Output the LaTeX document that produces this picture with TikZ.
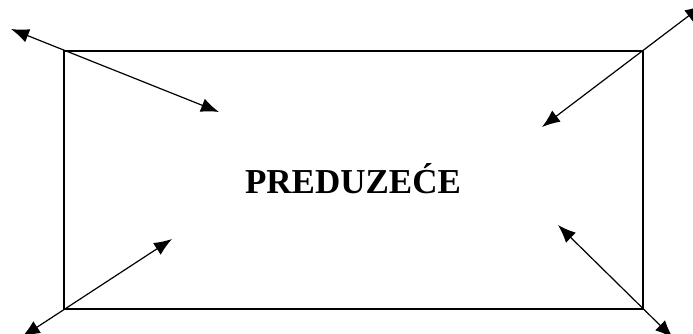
\documentclass[tikz,border=0pt]{standalone}
\usepackage{fontspec}
\setmainfont{Liberation Serif}
\usetikzlibrary{arrows.meta}
\begin{document}
\begin{tikzpicture}[x=1pt,y=1pt,>={Latex[length=18pt,width=14pt]}]
    \useasboundingbox (0,0) rectangle (693,333);
    \clip (0,0) rectangle (693,333);
    \draw[line width=1.2pt] (64,24) rectangle (643,282);
    \node (firm) at (353,154) {\fontsize{35}{40}\selectfont\bfseries PREDUZEĆE};
    % outer ends of the arrows
    \coordinate (nw) at (11,304);
    \coordinate (ne) at (703,328);
    \coordinate (sw) at (22,-4);
    \coordinate (se) at (673,-5);
    % inner ends
    \coordinate (inw) at (219,221);
    \coordinate (ine) at (542,206);
    \coordinate (isw) at (172,94);
    \coordinate (ise) at (558,108);
    \draw[<->,line width=1.2pt] (nw) -- (inw);
    \draw[<->,line width=1.2pt] (ine) -- (ne);
    \draw[<->,line width=1.2pt] (isw) -- (sw);
    \draw[<->,line width=1.2pt] (ise) -- (se);
  \end{tikzpicture}
\end{document}
